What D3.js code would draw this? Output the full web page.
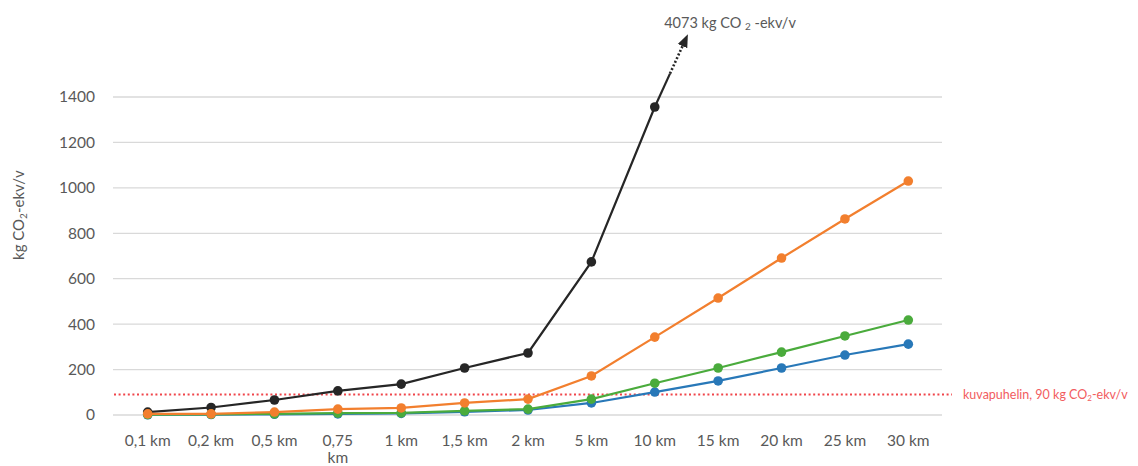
<!DOCTYPE html>
<html>
<head>
<meta charset="utf-8">
<script src="https://cdn.jsdelivr.net/npm/d3@7"></script>
<style>
  body { margin: 0; background: #fff; }
  svg text { font-family: Lato, "Open Sans", sans-serif; }
</style>
</head>
<body>
<div class="chart"></div>
<script>
// data
const categories = ["0,1 km", "0,2 km", "0,5 km", "0,75 km", "1 km", "1,5 km", "2 km",
                    "5 km", "10 km", "15 km", "20 km", "25 km", "30 km"];
const blackValues  = [13, 33, 66, 106, 136, 207, 273, 674, 1356];
const orangeValues = [5, 5, 13, 26, 31, 53, 70, 172, 343, 515, 691, 863, 1030];
const greenValues  = [2, 3, 5, 8, 9, 18, 26, 70, 140, 207, 277, 348, 418];
const blueValues   = [1, 2, 3, 5, 7, 14, 22, 53, 101, 150, 207, 264, 312];
const yTicks = [0, 200, 400, 600, 800, 1000, 1200, 1400];
const phoneLimit = 90;
const arrowTop = 1650;   // where the arrow stops (value units, off the axis)

const width = 1138;
const height = 466;
const margin = { left: 116, right: 198, top: 97, bottom: 51 };

const svg = d3.select(".chart")
              .append("svg")
              .attr("width", width)
              .attr("height", height);

const x = d3.scaleBand()
            .domain(categories)
            .range([margin.left, width - margin.right]);

const y = d3.scaleLinear()
            .domain([0, 1400])
            .range([height - margin.bottom, margin.top]);

const cx = function(i) { return x(categories[i]) + x.bandwidth() / 2; };

// gridlines
svg.append("g")
   .selectAll("line")
   .data(yTicks)
   .enter()
   .append("line")
   .attr("x1", margin.left - 3)
   .attr("x2", width - margin.right + 2)
   .attr("y1", function(d) { return y(d); })
   .attr("y2", function(d) { return y(d); })
   .attr("stroke", "#d9d9d9")
   .attr("stroke-width", 1.3);

// y axis labels
const yAxis = svg.append("g")
   .attr("transform", "translate(" + (margin.left - 21) + ",0)")
   .call(d3.axisLeft(y).tickValues(yTicks).tickFormat(d3.format("d")).tickSize(0).tickPadding(0));
yAxis.select(".domain").remove();
yAxis.selectAll("text")
     .attr("fill", "#595959")
     .style("font-size", "15.5px");

// x axis labels, wrapped like excel does
const xAxis = svg.append("g")
   .attr("transform", "translate(0," + (height - margin.bottom) + ")")
   .call(d3.axisBottom(x).tickSize(0).tickPadding(0));
xAxis.select(".domain").remove();
xAxis.selectAll("text")
     .attr("fill", "#595959")
     .style("font-size", "15.5px")
     .attr("dy", null)
     .attr("y", 31)
     .each(function(d) {
       const t = d3.select(this);
       if (this.getComputedTextLength() > 54) {
         const parts = d.split(" ");
         t.text(null);
         parts.forEach(function(p, k) {
           t.append("tspan").attr("x", 0).attr("y", 31 + k * 17).text(p);
         });
       }
     });

// y axis title
svg.append("text")
   .attr("transform", "translate(24," + y(880) + ") rotate(-90)")
   .attr("text-anchor", "middle")
   .attr("fill", "#595959")
   .style("font-size", "15px")
   .html("kg CO<tspan dy='3' font-size='10'>2</tspan><tspan dy='-3'>-ekv/v</tspan>");

// phone limit
svg.append("line")
   .attr("x1", margin.left - 2)
   .attr("x2", width - margin.right + 12)
   .attr("y1", y(phoneLimit))
   .attr("y2", y(phoneLimit))
   .attr("stroke", "#f0454a")
   .attr("stroke-width", 2)
   .attr("stroke-dasharray", "2,2.6");

svg.append("text")
   .attr("x", width - margin.right + 23)
   .attr("y", y(phoneLimit) + 4)
   .attr("fill", "#f25c60")
   .style("font-size", "12.5px")
   .html("kuvapuhelin, 90 kg CO<tspan dy='2' font-size='8'>2</tspan><tspan dy='-2'>-ekv/v</tspan>");

// arrow marker
svg.append("defs")
   .append("marker")
   .attr("id", "head")
   .attr("viewBox", "0 0 10 10")
   .attr("refX", 5).attr("refY", 5)
   .attr("markerWidth", 5).attr("markerHeight", 5)
   .attr("orient", "auto")
   .append("path")
   .attr("d", "M0,1 L10,5 L0,9 Z")
   .attr("fill", "#262626");

// overflow arrow for the black series
const last = blackValues.length - 1;
const x0 = cx(last), y0 = y(blackValues[last]);
const x1 = cx(last) + x.bandwidth() * 0.48, y1 = y(arrowTop);
const xm = x0 + (x1 - x0) * 0.5, ym = y0 + (y1 - y0) * 0.5;
svg.append("line")
   .attr("x1", x0).attr("y1", y0).attr("x2", xm).attr("y2", ym)
   .attr("stroke", "#262626").attr("stroke-width", 2.2);
svg.append("line")
   .attr("x1", xm).attr("y1", ym).attr("x2", x1).attr("y2", y1)
   .attr("stroke", "#262626").attr("stroke-width", 2.6)
   .attr("stroke-dasharray", "2,2")
   .attr("marker-end", "url(#head)");

svg.append("text")
   .attr("x", x1 - 21)
   .attr("y", 28)
   .attr("fill", "#595959")
   .style("font-size", "14.5px")
   .html("4073 kg CO <tspan dy='2' font-size='10'>2</tspan><tspan dy='-2'> -ekv/v</tspan>");

// series
const series = [
  { values: blackValues,  color: "#262626" },
  { values: blueValues,   color: "#2878b8" },
  { values: greenValues,  color: "#4aab3c" },
  { values: orangeValues, color: "#f27f2e" }
];

const line = d3.line()
               .x(function(d, i) { return cx(i); })
               .y(function(d) { return y(d); });

series.forEach(function(s) {
  const g = svg.append("g");
  g.append("path")
   .datum(s.values)
   .attr("d", line)
   .attr("fill", "none")
   .attr("stroke", s.color)
   .attr("stroke-width", 2.2);
  g.selectAll("circle")
   .data(s.values)
   .enter()
   .append("circle")
   .attr("cx", function(d, i) { return cx(i); })
   .attr("cy", function(d) { return y(d); })
   .attr("r", 4.8)
   .attr("fill", s.color);
});
</script>
</body>
</html>
